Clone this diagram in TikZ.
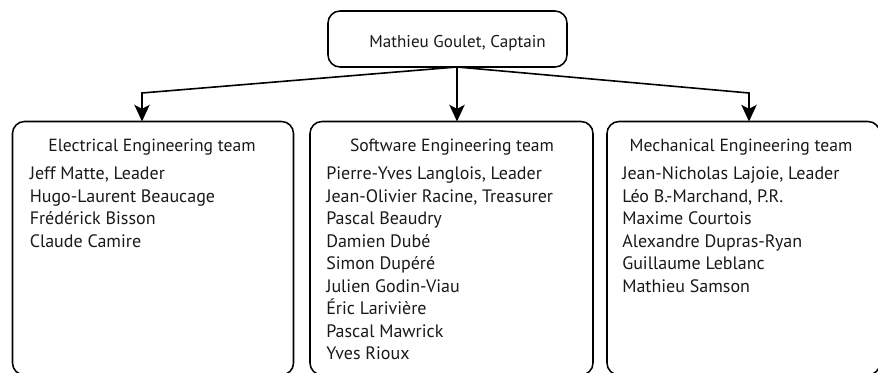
\documentclass[tikz,border=0pt]{standalone}
\usepackage{fontspec}
\setmainfont{PT Sans}
\usetikzlibrary{arrows.meta}
\begin{document}
\begin{tikzpicture}[x=0.75pt,y=-0.75pt,
  box/.style={draw=black,line width=1.15pt,rounded corners=9pt,inner sep=0pt},
  link/.style={draw=black,line width=1.2pt,-{Stealth[length=12.5pt,width=11.5pt,inset=3pt]}},
  head/.style={font=\fontsize{13.2}{15}\selectfont,inner sep=0pt,anchor=base,text=black!90},
  members/.style={font=\fontsize{13.5}{16.875}\selectfont,align=left,anchor=base west,inner sep=0pt,text=black!90}]
\useasboundingbox (0,0) rectangle (878,373);
\node[box,minimum width=179.25pt,minimum height=42pt] (top) at (447.5,39) {};
\node[head,font=\fontsize{12.8}{15}\selectfont] (toptext) at (457.5,48) {Mathieu Goulet, Captain};
\node[box,minimum width=210.75pt,minimum height=190.125pt] (elec) at (153,248.25) {};
\node[box,minimum width=212.25pt,minimum height=190.125pt] (soft) at (451.5,248.25) {};
\node[box,minimum width=204.75pt,minimum height=190.125pt] (mech) at (743.5,248.25) {};
\coordinate (o) at (457,67);
\coordinate (eb) at (142,93);
\coordinate (mb) at (749,93);
\coordinate (et) at (142,121.5);
\coordinate (st) at (457,121.5);
\coordinate (mt) at (749,121.5);
\draw[link] (o) -- (eb) -- (et);
\draw[link] (o) -- (st);
\draw[link] (o) -- (mb) -- (mt);
\node[head] (eh) at (152,152) {Electrical Engineering team};
\node[head] (sh) at (452,152) {Software Engineering team};
\node[head] (mh) at (741,152) {Mechanical Engineering team};
% anchor=base west puts the LAST line's baseline at the given point
\node[members] (em) at (29.5,247.5) {Jeff Matte, Leader\\Hugo-Laurent Beaucage\\Frédérick Bisson\\Claude Camire};
\node[members] (sm) at (326,360) {Pierre-Yves Langlois, Leader\\Jean-Olivier Racine, Treasurer\\Pascal Beaudry\\Damien Dubé\\Simon Dupéré\\Julien Godin-Viau\\Éric Larivière\\Pascal Mawrick\\Yves Rioux};
\node[members] (mm) at (622,292.5) {Jean-Nicholas Lajoie, Leader\\Léo B.-Marchand, P.R.\\Maxime Courtois\\Alexandre Dupras-Ryan\\Guillaume Leblanc\\Mathieu Samson};
\end{tikzpicture}
\end{document}
